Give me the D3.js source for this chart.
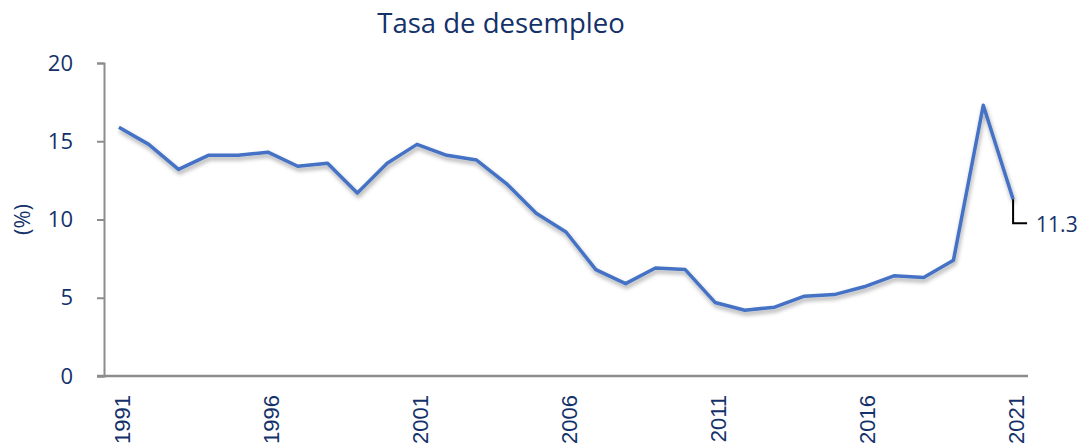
<!DOCTYPE html>
<html>
<head>
<meta charset="utf-8">
<script src="https://cdn.jsdelivr.net/npm/d3@7"></script>
<style>
  body { margin: 0; background: #fff; }
  svg { display: block; }
</style>
</head>
<body>
<div id="chart"></div>
<script>
// data
const years = d3.range(1991, 2022);
const rates = [15.9, 14.8, 13.2, 14.1, 14.1, 14.3, 13.4, 13.6, 11.7, 13.6,
    14.8, 14.1, 13.8, 12.3, 10.4, 9.2, 6.8, 5.9, 6.9, 6.8,
    4.7, 4.2, 4.4, 5.1, 5.2, 5.7, 6.4, 6.3, 7.4, 17.3, 11.3];
const yTicks = [0, 5, 10, 15, 20];
const yearLabels = [1991, 1996, 2001, 2006, 2011, 2016, 2021];

const WIDTH = 1089, HEIGHT = 448;
const margin = { left: 104, right: 61, top: 63, bottom: 72 };
const NAVY = "#14316a";
const FONT = "'Open Sans', Lato, sans-serif";

const svg = d3.select("#chart").append("svg")
    .attr("width", WIDTH)
    .attr("height", HEIGHT);

// shadow for the line
const defs = svg.append("defs");
const f = defs.append("filter").attr("id", "shadow")
    .attr("x", "-5%").attr("y", "-5%").attr("width", "110%").attr("height", "120%");
f.append("feDropShadow")
    .attr("dx", 1).attr("dy", 3).attr("stdDeviation", 2)
    .attr("flood-color", "#000").attr("flood-opacity", 0.35);

const x = d3.scaleBand()
    .domain(years)
    .range([margin.left, WIDTH - margin.right]);

const y = d3.scaleLinear()
    .domain([0, 20])
    .range([HEIGHT - margin.bottom, margin.top]);

// title
svg.append("text")
    .attr("x", 501).attr("y", 33)
    .attr("text-anchor", "middle")
    .style("font-family", FONT)
    .style("font-size", "27.5px")
    .attr("fill", NAVY)
    .text("Tasa de desempleo");

// y axis
const yAxis = svg.append("g")
    .attr("transform", "translate(" + margin.left + ",0)")
    .call(d3.axisLeft(y).tickValues(yTicks).tickSize(7).tickPadding(24));
yAxis.select(".domain").attr("stroke", "#8c8c8c").attr("stroke-width", 2);
yAxis.selectAll(".tick line").attr("stroke", "#8c8c8c").attr("stroke-width", 2);
yAxis.selectAll(".tick text")
    .attr("fill", NAVY)
    .style("font-family", FONT)
    .style("font-size", "22px");

// y axis title
svg.append("text")
    .attr("transform", "translate(30," + y(10) + ") rotate(-90)")
    .attr("text-anchor", "middle")
    .style("font-family", FONT)
    .style("font-size", "22px")
    .attr("fill", NAVY)
    .text("(%)");

// x axis
const xAxis = svg.append("g")
    .attr("transform", "translate(0," + y(0) + ")")
    .call(d3.axisBottom(x).tickValues(yearLabels).tickSize(0).tickPadding(0));
xAxis.select(".domain").remove();
xAxis.append("line")
    .attr("x1", margin.left - 7).attr("x2", WIDTH - margin.right)
    .attr("y1", 0).attr("y2", 0)
    .attr("stroke", "#8c8c8c").attr("stroke-width", 2.5);
xAxis.selectAll(".tick text")
    .attr("transform", "rotate(-90)")
    .attr("x", -19).attr("y", 0).attr("dy", "0.5em")
    .attr("text-anchor", "end")
    .attr("fill", NAVY)
    .style("font-family", "'Liberation Sans', Arial, sans-serif")
    .style("font-size", "22px");

// line
const line = d3.line()
    .x((d, i) => x(years[i]) + x.bandwidth() / 2)
    .y(d => y(d));

svg.append("path")
    .datum(rates)
    .attr("d", line)
    .attr("fill", "none")
    .attr("stroke", "#4472c4")
    .attr("stroke-width", 3.5)
    .attr("stroke-linejoin", "round")
    .attr("filter", "url(#shadow)");

// last value label with leader
const lastX = x(years[years.length - 1]) + x.bandwidth() / 2;
const lastY = y(rates[rates.length - 1]);
svg.append("path")
    .attr("d", "M" + lastX + "," + lastY + "V" + (lastY + 24) + "H" + (lastX + 14))
    .attr("fill", "none")
    .attr("stroke", "#000")
    .attr("stroke-width", 2);
svg.append("text")
    .attr("x", lastX + 23).attr("y", lastY + 25)
    .attr("dy", "0.35em")
    .style("font-family", FONT)
    .style("font-size", "21px")
    .attr("fill", NAVY)
    .text(rates[rates.length - 1].toFixed(1));
</script>
</body>
</html>
